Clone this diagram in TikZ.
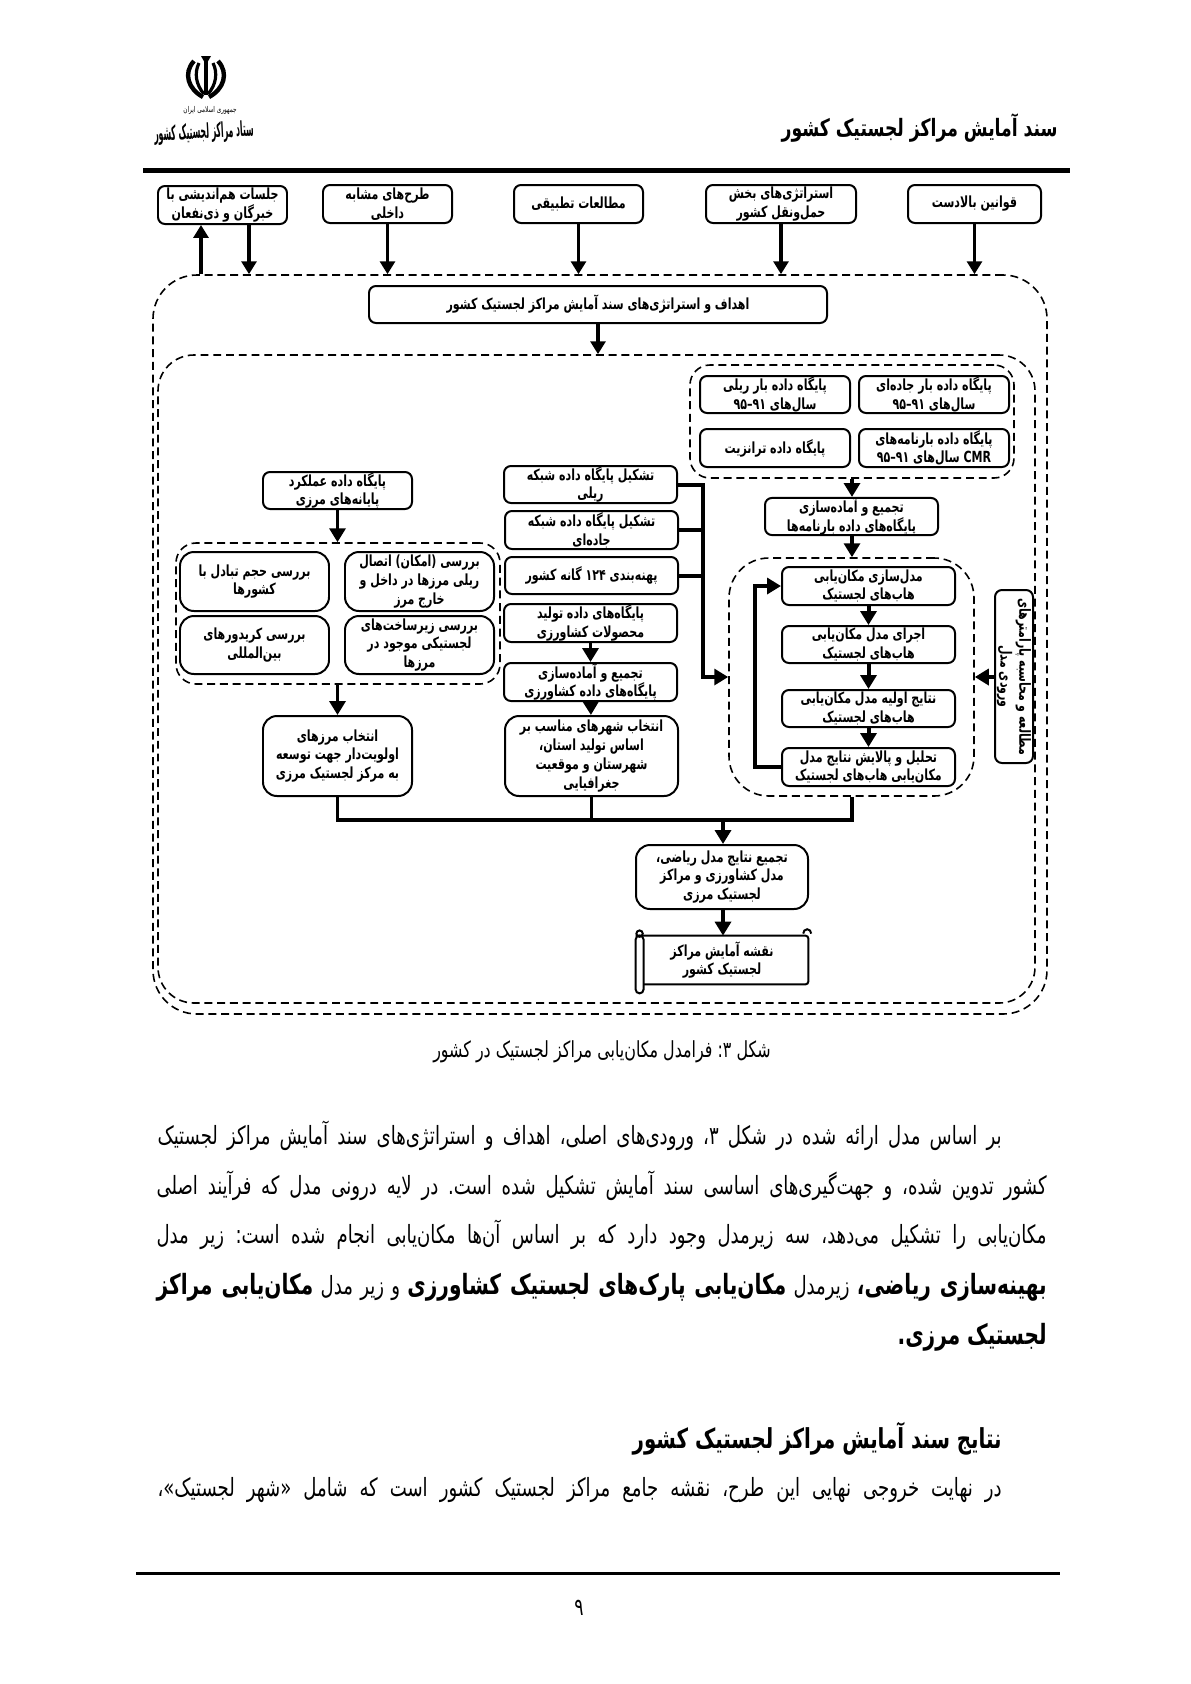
\documentclass[tikz,border=0pt]{standalone}
\usepackage{fontspec}
\usetikzlibrary{arrows.meta,calc}
\TeXXeTstate=1
\setmainfont{DejaVu Sans}
\frenchspacing
\newfontfamily\fb[Script=Arabic,FakeStretch=0.72]{DejaVu Sans Bold}
\newfontfamily\fr[Script=Arabic,FakeStretch=0.72]{DejaVu Sans}
\newcommand\RR[1]{\beginR #1\endR}
\newcommand\YRS{\beginL ۹۱–۹۵\endL}
\newcommand\bxtxt{\fb\fontsize{7.7}{9.4}\selectfont}
\newcommand\bodyfont{\fr\fontsize{12.6}{14}\selectfont}
\newcommand\bodyb{\fb\fontsize{14}{14}\selectfont}
\tikzset{
 bx/.style={draw,line width=1pt,rounded corners=3.5pt,inner sep=0pt,align=center,font=\bxtxt},
 bxr/.style={bx,rounded corners=7pt},
 dsh/.style={draw,line width=0.8pt,dash pattern=on 4pt off 2.4pt,inner sep=0pt},
 arrt/.style={line width=1.9pt,-{Triangle[length=6.5pt,width=7.5pt]}},
 arr/.style={line width=2pt,-{Triangle[length=7pt,width=8pt]}},
 bus/.style={line width=2pt},
 ln/.style={anchor=east,inner sep=0pt},
}
\newcommand\bx[7][]{\node[bx,#1,minimum width={(#4-#2)*0.5bp},minimum height={(#5-#3)*0.5bp}] (#6) at ({(#2+#4)/2},{(#3+#5)/2}) {#7};}
\newcommand\dbx[6]{\node[dsh,rounded corners=#6,minimum width={(#3-#1)*0.5bp},minimum height={(#4-#2)*0.5bp}] (#5) at ({(#1+#3)/2},{(#2+#4)/2}) {};}
\begin{document}
\begin{tikzpicture}[x=0.5bp,y=-0.5bp]
\useasboundingbox (0,0) rectangle (1191,1684);
% header
\node[inner sep=0pt,anchor=east] (title) at (1058,128) {\fb\fontsize{12}{14}\selectfont\RR{سند آمایش مراکز لجستیک کشور}};
\fill (143,168) rectangle (1070,173);
% emblem
\begin{scope}[shift={(206,77)}]
 \fill (-1.6,-18) rectangle (1.6,18);
 \fill (-5,-21) -- (5,-21) -- (1.6,-15) -- (-1.6,-15) -- cycle;
 \draw[line width=1.6pt] (-7,-14) .. controls (-12,-4) and (-10,8) .. (-2,17);
 \draw[line width=1.6pt] (7,-14) .. controls (12,-4) and (10,8) .. (2,17);
 \draw[line width=2.2pt] (-12,-16) .. controls (-23,-4) and (-18,12) .. (-3,20);
 \draw[line width=2.2pt] (12,-16) .. controls (23,-4) and (18,12) .. (3,20);
\end{scope}
\node[inner sep=0pt] (logosub) at (210,110) {\fr\fontsize{4}{5}\selectfont\RR{جمهوری اسلامی ایران}};
\node[inner sep=0pt,rotate=3] (logoname) at (204,133) {\scalebox{0.6}[1.15]{\fb\fontsize{9}{12}\selectfont\RR{ستاد مراکز لجستیک کشور}}};
% dashed
\dbx{153}{275}{1047}{1014}{outer}{22pt}
\dbx{158}{355}{1035}{1003}{inner}{18pt}
\dbx{690}{365}{1014}{478}{dbgrp}{10pt}
\dbx{729}{558}{974}{796}{hub}{20pt}
\dbx{176}{543}{500}{684}{chk}{10pt}
% top boxes
\bx{158}{186}{287}{224}{A}{\RR{جلسات هم‌اندیشی با}\\\RR{خبرگان و ذی‌نفعان}}
\bx{323}{185}{452}{223}{B}{\RR{طرح‌های مشابه}\\\RR{داخلی}}
\bx{514}{185}{643}{223}{C}{\RR{مطالعات تطبیقی}}
\bx{706}{185}{856}{223}{D}{\RR{استراتژی‌های بخش}\\\RR{حمل‌ونقل کشور}}
\bx{908}{185}{1041}{223}{E}{\RR{قوانین بالادست}}
\bx{369}{286}{827}{323}{goals}{\RR{اهداف و استراتژی‌های سند آمایش مراکز لجستیک کشور}}
% db group
\bx{700}{376}{850}{413}{rail}{\RR{پایگاه داده بار ریلی}\\\RR{سال‌های \YRS}}
\bx{859}{376}{1009}{413}{road}{\RR{پایگاه داده بار جاده‌ای}\\\RR{سال‌های \YRS}}
\bx{700}{429}{850}{467}{trans}{\RR{پایگاه داده ترانزیت}}
\bx{859}{429}{1009}{467}{bill}{\RR{پایگاه داده بارنامه‌های}\\\RR{\beginL CMR\endL{} سال‌های \YRS}}
\bx{765}{498}{938}{535}{agg}{\RR{تجمیع و آماده‌سازی}\\\RR{پایگاه‌های داده بارنامه‌ها}}
% hub
\bx{782}{567}{955}{605}{h1}{\RR{مدل‌سازی مکان‌یابی}\\\RR{هاب‌های لجستیک}}
\bx{782}{626}{955}{663}{h2}{\RR{اجرای مدل مکان‌یابی}\\\RR{هاب‌های لجستیک}}
\bx{782}{690}{955}{727}{h3}{\RR{نتایج اولیه مدل مکان‌یابی}\\\RR{هاب‌های لجستیک}}
\bx{782}{748}{955}{786}{h4}{\RR{تحلیل و پالایش نتایج مدل}\\\RR{مکان‌یابی هاب‌های لجستیک}}
\node[bx,minimum width={173*0.5bp},minimum height={38*0.5bp},rotate=-90] (param) at (1014,676.5) {\RR{مطالعه و محاسبه پارامترهای}\\\RR{ورودی مدل}};
% left column
\bx{263}{472}{412}{509}{perf}{\RR{پایگاه داده عملکرد}\\\RR{پایانه‌های مرزی}}
\bx[bxr]{345}{552}{494}{611}{c1}{\RR{بررسی (امکان) اتصال}\\\RR{ریلی مرزها در داخل و}\\\RR{خارج مرز}}
\bx[bxr]{180}{552}{329}{611}{c2}{\RR{بررسی حجم تبادل با}\\\RR{کشورها}}
\bx[bxr]{345}{616}{494}{674}{c3}{\RR{بررسی زیرساخت‌های}\\\RR{لجستیکی موجود در}\\\RR{مرزها}}
\bx[bxr]{180}{616}{329}{674}{c4}{\RR{بررسی کریدورهای}\\\RR{بین‌المللی}}
\bx[bxr]{263}{716}{412}{796}{sel}{\RR{انتخاب مرزهای}\\\RR{اولویت‌دار جهت توسعه}\\\RR{به مرکز لجستیک مرزی}}
% middle column
\bx{504}{466}{677}{503}{m1}{\RR{تشکیل پایگاه داده شبکه}\\\RR{ریلی}}
\bx{505}{511}{678}{549}{m2}{\RR{تشکیل پایگاه داده شبکه}\\\RR{جاده‌ای}}
\bx{505}{557}{678}{594}{m3}{\RR{پهنه‌بندی \beginL ۱۲۴\endL{} گانه کشور}}
\bx{504}{604}{677}{642}{m4}{\RR{پایگاه‌های داده تولید}\\\RR{محصولات کشاورزی}}
\bx{504}{663}{677}{701}{m5}{\RR{تجمیع و آماده‌سازی}\\\RR{پایگاه‌های داده کشاورزی}}
\bx[bxr]{505}{716}{678}{796}{m6}{\RR{انتخاب شهرهای مناسب بر}\\\RR{اساس تولید استان،}\\\RR{شهرستان و موقعیت}\\\RR{جغرافیایی}}
% result
\bx[bxr]{636}{845}{808}{909}{res}{\RR{تجمیع نتایج مدل ریاضی،}\\\RR{مدل کشاورزی و مراکز}\\\RR{لجستیک مرزی}}
\node[inner sep=0pt,minimum width={172*0.5bp},minimum height={48*0.5bp},align=center,font=\bxtxt] (map) at (722,960) {\RR{نقشه آمایش مراکز}\\\RR{لجستیک کشور}};
\draw[line width=1pt,rounded corners=1.5pt] (map.north west) -- (map.north east) -- (map.south east) -- ([xshift=4pt]map.south west);
\draw[line width=1pt,rounded corners=2pt] (map.north west) rectangle ([xshift=4pt,yshift=-4.5pt]map.south west);
\draw[line width=1pt] ([xshift=2pt,yshift=1pt]map.north west) circle (1.6pt);
\draw[line width=1pt] ([xshift=-2.6pt,yshift=1pt]map.north east) arc (180:0:2pt and 2.2pt);
% arrows top
\coordinate (xu) at (201,0);
\coordinate (xd) at (249,0);
\draw[arrt] (outer.north -| xu) -- (A.south -| xu);
\draw[arrt] (A.south -| xd) -- (outer.north -| xd);
\draw[arrt] (B) -- (B |- outer.north);
\draw[arrt] (C) -- (C |- outer.north);
\draw[arrt] (D) -- (D |- outer.north);
\draw[arrt] (E) -- (E |- outer.north);
\coordinate (xg) at (598,0);
\draw[arrt] (goals.south -| xg) -- (inner.north -| xg);
% db
\coordinate (xa) at (852,0);
\draw[arr] (dbgrp.south -| xa) -- (agg.north -| xa);
\draw[arr] (agg.south -| xa) -- (hub.north -| xa);
\draw[arr] (h1) -- (h2);
\draw[arr] (h2) -- (h3);
\draw[arr] (h3) -- (h4);
\coordinate (fb) at (755,0);
\draw[arr] (h4.west) -- (h4.west -| fb) |- (h1.west);
\coordinate (yp) at (0,677);
\draw[arr] (param.south |- yp) -- (hub.east |- yp);
% middle bus
\coordinate (xb) at (703,0);
\draw[bus] (m2.east) -- (m2.east -| xb);
\draw[bus] (m3.east) -- (m3.east -| xb);
\draw[arr] (m1.east) -- (m1.east -| xb) |- (hub.west |- yp);
\draw[arr] (perf) -- (perf |- chk.north);
\draw[arr] (chk.south -| perf) -- (sel);
\draw[arr] (m4.south -| m5) -- (m5);
\draw[arr] (m5) -- (m6);
% bottom bus
\coordinate (ybus) at (0,820);
\coordinate (xr) at (723,0);
\draw[bus] (sel.south) -- (sel.south |- ybus) -| (hub.south -| xa);
\draw[bus] (m6.south) -- (m6.south |- ybus);
\draw[arr] (ybus -| xr) -- (res.north -| xr);
\draw[arr] (res.south -| xr) -- (map.north -| xr);
% caption
\node[inner sep=0pt] (cap) at (602,1052) {\fr\fontsize{11.1}{13}\selectfont\RR{شکل \beginL ۳\endL: فرامدل مکان‌یابی مراکز لجستیک در کشور}};
% paragraph
\node[ln] (p1) at (1002,1136) {\hbox to 422bp{\bodyfont\RR{بر اساس مدل ارائه شده در شکل \beginL ۳\endL، ورودی‌های اصلی، اهداف و استراتژی‌های سند آمایش مراکز لجستیک}}};
\node[ln] (p2) at (1047,1186) {\hbox to 445bp{\bodyfont\RR{کشور تدوین شده، و جهت‌گیری‌های اساسی سند آمایش تشکیل شده است. در لایه درونی مدل که فرآیند اصلی}}};
\node[ln] (p3) at (1047,1235) {\hbox to 445bp{\bodyfont\RR{مکان‌یابی را تشکیل می‌دهد، سه زیرمدل وجود دارد که بر اساس آن‌ها مکان‌یابی انجام شده است: زیر مدل}}};
\node[ln] (p4) at (1047,1287) {\hbox to 445bp{\bodyfont\RR{{\bodyb بهینه‌سازی ریاضی،} زیرمدل {\bodyb مکان‌یابی پارک‌های لجستیک کشاورزی} و زیر مدل {\bodyb مکان‌یابی مراکز}}}};
\node[ln] (p5) at (1047,1337) {\bodyb\RR{لجستیک مرزی.}};
\node[ln] (h) at (1002,1439) {\fb\fontsize{13.8}{15}\selectfont\RR{نتایج سند آمایش مراکز لجستیک کشور}};
\node[ln] (p6) at (1002,1490) {\hbox to 422bp{\bodyfont\RR{در نهایت خروجی نهایی این طرح، نقشه جامع مراکز لجستیک کشور است که شامل «شهر لجستیک»،}}};
\fill (136,1572) rectangle (1060,1575);
\node[inner sep=0pt] (pg) at (579,1608) {\fr\fontsize{12}{14}\selectfont\RR{۹}};
\end{tikzpicture}
\end{document}
